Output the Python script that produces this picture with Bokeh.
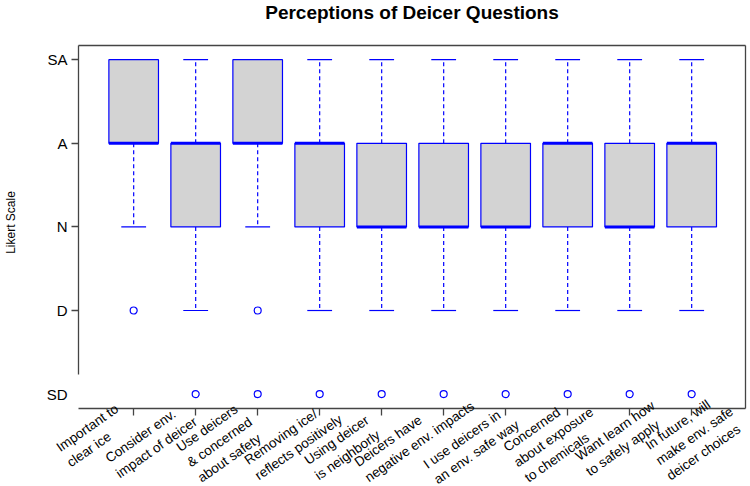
import math
from bokeh.plotting import figure
from bokeh.models import Range1d, LinearAxis, FixedTicker, Label
from bokeh.embed import file_html
from bokeh.resources import INLINE

# ---- data (Likert: 1=SD, 2=D, 3=N, 4=A, 5=SA) ----
questions = [
    "Important to\nclear ice",
    "Consider env.\nimpact of deicer",
    "Use deicers\n& concerned\nabout safety",
    "Removing ice/\nreflects positively",
    "Using deicer\nis neighborly",
    "Deicers have\nnegative env. impacts",
    "I use deicers in\nan env. safe way",
    "Concerned\nabout exposure\nto chemicals",
    "Want learn how\nto safely apply",
    "In future, will\nmake env. safe\ndeicer choices",
]
likert_values = [1, 2, 3, 4, 5]
likert_labels = ["SD", "D", "N", "A", "SA"]

q1 = [4, 3, 4, 3, 3, 3, 3, 3, 3, 3]
median = [4, 4, 4, 4, 3, 3, 3, 4, 3, 4]
q3 = [5, 4, 5, 4, 4, 4, 4, 4, 4, 4]
whisker_low = [3, 2, 3, 2, 2, 2, 2, 2, 2, 2]
whisker_high = [5, 5, 5, 5, 5, 5, 5, 5, 5, 5]
outlier_question = [1, 2, 3, 3, 4, 5, 6, 7, 8, 9, 10]
outlier_value = [2, 1, 2, 1, 1, 1, 1, 1, 1, 1, 1]

title_text = "Perceptions of Deicer Questions"
y_title = "Likert Scale"

# ---- layout (the data frame covers the whole canvas; axes sit at fixed spots) ----
W, H = 750, 486
FONT = "Liberation Sans"
BLUE = "#0000FF"
FRAME = "#444444"
PX_PER_X = 62.0
PX_PER_Y = 83.6
BOX_L, BOX_R = 0.11, 10.87          # plot box in data units
BOX_B, BOX_T = 0.83, 5.17
XL = BOX_L - 78 / PX_PER_X
YT = BOX_T + 45 / PX_PER_Y
BOX_W = 0.8
CAP_W = 0.4

# rotated category text: baseline start of each first line (pixels), angle, line pitch
LABEL_STARTS = [(60, 452), (109, 463), (180, 452), (248, 465), (308, 465),
                (358, 467), (427, 469), (507, 452), (579, 461), (649, 450)]
LABEL_ANGLE = math.radians(35)
LABEL_SIZE = 13.5
LINE_PITCH = 18.6
MID_SHIFT = 0.3465 * LABEL_SIZE     # baseline -> middle of the text box


def px_x(px):
    return XL + px / PX_PER_X


def px_y(py):
    return YT - py / PX_PER_Y


xs = list(range(1, len(questions) + 1))

p = figure(width=W, height=H, title=None,
           x_range=Range1d(XL, XL + W / PX_PER_X), y_range=Range1d(YT - H / PX_PER_Y, YT),
           output_backend="svg", toolbar_location=None,
           x_axis_location=None, y_axis_location=None, min_border=0)
for r in list(p.center):
    r.visible = False
p.outline_line_color = None
p.background_fill_color = "white"
p.border_fill_color = "white"


def plain_axis(**kw):
    ax = LinearAxis(**kw)
    ax.axis_line_color = FRAME
    ax.axis_line_width = 1.3
    ax.major_tick_line_color = FRAME
    ax.major_tick_line_width = 1.3
    ax.minor_tick_line_color = FRAME
    ax.minor_tick_line_width = 1.3
    ax.major_tick_in = 0
    ax.major_tick_out = 0
    ax.minor_tick_in = 0
    ax.minor_tick_out = 0
    ax.major_label_text_font = FONT
    ax.major_label_text_color = "black"
    ax.major_label_text_font_size = "0px"
    ax.major_label_standoff = 0
    return ax


# left frame line (stops above SD)
p.add_layout(plain_axis(ticker=FixedTicker(ticks=[]), bounds=(1.24, BOX_T), fixed_location=BOX_L), "left")
# left scale: labels SD..SA, tick marks only at D..SA
yax = plain_axis(ticker=FixedTicker(ticks=likert_values, minor_ticks=likert_values[1:]),
                 major_label_overrides={v: l for v, l in zip(likert_values, likert_labels)},
                 fixed_location=BOX_L)
yax.axis_line_color = None
yax.minor_tick_out = 7
yax.major_label_text_font_size = "15px"
yax.major_label_standoff = 4
p.add_layout(yax, "left")
# top frame line
p.add_layout(plain_axis(ticker=FixedTicker(ticks=[]), bounds=(BOX_L, BOX_R), fixed_location=BOX_T), "above")
# right frame line
p.add_layout(plain_axis(ticker=FixedTicker(ticks=[]), bounds=(BOX_B, BOX_T), fixed_location=BOX_R), "right")
# bottom axis line with ticks at each question
xax = plain_axis(ticker=FixedTicker(ticks=xs), major_label_overrides={x: "" for x in xs},
                 bounds=(BOX_L, BOX_R), fixed_location=BOX_B)
xax.major_tick_out = 7
p.add_layout(xax, "below")

# whiskers
p.segment(x0=xs, y0=q3, x1=xs, y1=whisker_high, line_color=BLUE, line_width=1.2, line_dash="4 3")
p.segment(x0=xs, y0=q1, x1=xs, y1=whisker_low, line_color=BLUE, line_width=1.2, line_dash="4 3")
p.segment(x0=[x - CAP_W / 2 for x in xs], y0=whisker_high, x1=[x + CAP_W / 2 for x in xs], y1=whisker_high,
          line_color=BLUE, line_width=1.2)
p.segment(x0=[x - CAP_W / 2 for x in xs], y0=whisker_low, x1=[x + CAP_W / 2 for x in xs], y1=whisker_low,
          line_color=BLUE, line_width=1.2)
# boxes
p.vbar(x=xs, width=BOX_W, bottom=q1, top=q3, fill_color="#D3D3D3", line_color=BLUE, line_width=1.2)
# medians
p.segment(x0=[x - BOX_W / 2 for x in xs], y0=median, x1=[x + BOX_W / 2 for x in xs], y1=median,
          line_color=BLUE, line_width=3)
# outliers
p.scatter(x=outlier_question, y=outlier_value, marker="circle", size=7,
          fill_color=None, line_color=BLUE, line_width=1.2)

# title and y-axis title
p.add_layout(Label(x=px_x(411.5), y=px_y(12), text=title_text, text_align="center",
                   text_baseline="middle", text_font=FONT, text_font_size="19px",
                   text_font_style="bold", text_color="black"))
p.add_layout(Label(x=px_x(10), y=px_y(222), text=y_title, angle=math.pi / 2,
                   text_align="center", text_baseline="middle", text_font=FONT,
                   text_font_size="12px", text_color="black"))

# rotated question labels, one Label per text line, lines left-aligned
sin_a, cos_a = math.sin(LABEL_ANGLE), math.cos(LABEL_ANGLE)
for (sx, sy), q in zip(LABEL_STARTS, questions):
    for k, line in enumerate(q.split("\n")):
        lx = sx + (k * LINE_PITCH - MID_SHIFT) * sin_a
        ly = sy + (k * LINE_PITCH - MID_SHIFT) * cos_a
        p.add_layout(Label(x=px_x(lx), y=px_y(ly), text=line, angle=LABEL_ANGLE,
                           text_align="left", text_baseline="middle",
                           text_font=FONT, text_font_size=f"{LABEL_SIZE}px", text_color="black"))

open("out.html", "w").write(file_html(p, INLINE))
